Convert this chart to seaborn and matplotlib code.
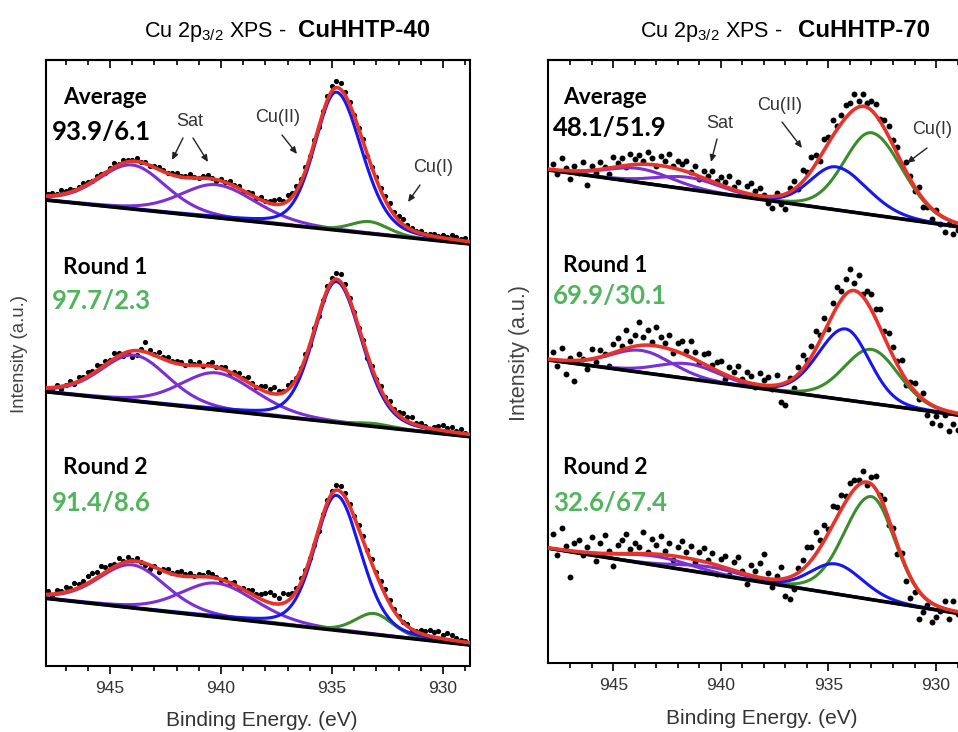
import numpy as np
import pandas as pd
import matplotlib
matplotlib.use("Agg")
import matplotlib.pyplot as plt
import seaborn as sns

sns.set_style("ticks")
plt.rcParams["font.family"] = ["Liberation Sans", "DejaVu Sans"]
plt.rcParams["mathtext.fontset"] = "custom"
plt.rcParams["mathtext.rm"] = "Liberation Sans"
plt.rcParams["mathtext.bf"] = "Liberation Sans:bold"

# ---------------- data ----------------
# measured binding energies (eV) of the data points
energy_points = [round(947.8 - 0.2 * i, 1) for i in range(95)]
component_names = ["Sat 1", "Sat 2", "Cu(II)", "Cu(I)"]

# CuHHTP-40 ------------------------------------------------------------
# intensity (a.u.) of linear background at 948 eV and 929 eV
c40_avg_base = [466.2, 422.5]
c40_avg_center = [944.0, 940.2, 934.8, 933.3]
c40_avg_height = [44, 33, 138, 12]
c40_avg_hw_hi = [1.8, 1.9, 1.15, 1.0]
c40_avg_hw_lo = [1.8, 2.1, 1.35, 1.0]
c40_avg_resid = [2, 3, 1, 4, 2, 3, 1, 2, 4, 2,
                 1, 3, 2, 0, 2, 4, 1, 3, 2, 1,
                 3, 0, 2, -1, 1, 3, 2, 0, 2, 3,
                 1, 2, 4, 1, 0, 2, 3, 1, -1, 2,
                 0, 3, 1, 2, -1, 1, 2, 0, 3, 1,
                 2, 4, 5, 3, 6, 4, 5, 3, 4, 2,
                 3, 1, 2, 4, 5, 7, 6, 3, 2, 1,
                 0, 2, -1, 1, 3, 2, 4, 5, 3, 4,
                 5, 3, 2, 1, 2, 0, 1, 2, 1, 3,
                 2, 4, 3, 2, 3]

c40_r1_base = [274.5, 229.8]
c40_r1_center = [943.9, 940.2, 934.8, 933.1]
c40_r1_height = [46, 37, 141, 3]
c40_r1_hw_hi = [1.8, 1.9, 1.2, 1.0]
c40_r1_hw_lo = [1.8, 2.1, 1.35, 1.0]
c40_r1_resid = [0, -2, 2, -3, 1, 3, -1, 4, 2, 5,
                3, 6, 2, 4, 1, 5, 3, -2, 0, -6,
                -4, 2, 10, 3, 1, 5, 2, 4, 1, 3,
                2, 0, 4, 1, 3, -1, 2, 4, 0, 1,
                3, -1, 2, 4, 1, 5, 2, 0, 3, 6,
                4, 7, 3, 2, 5, 3, 1, 2, 4, 0,
                2, -1, 1, 3, 4, 6, 8, 5, 2, 0,
                -2, 1, -3, 2, 0, 3, 1, 4, 2, 3,
                5, 4, 6, 2, 3, 1, -1, 2, 4, 6,
                3, 5, 2, 4, 1]

c40_r2_base = [67.9, 21.5]
c40_r2_center = [944.0, 940.2, 934.8, 933.1]
c40_r2_height = [43, 34, 135, 21]
c40_r2_hw_hi = [1.8, 1.9, 1.15, 1.0]
c40_r2_hw_lo = [1.8, 2.1, 1.3, 1.0]
c40_r2_resid = [3, -2, 4, 2, 5, 3, 6, 4, 5, 7,
                8, 6, 9, 5, 4, 3, 6, 2, 4, 1,
                3, 0, -2, -4, 1, -3, 2, 4, 1, 3,
                5, 2, 4, 1, 3, 2, 5, 3, 1, -1,
                2, 0, 3, -2, 1, 2, 4, 3, 5, 8,
                11, 9, 6, 10, 7, 4, 3, 5, 2, 1,
                0, -2, 1, 2, 3, 5, 6, 4, 2, 1,
                3, 4, 2, 5, 3, 4, 6, 3, 2, 1,
                0, 2, -1, 1, 3, 4, 6, 5, 7, 4,
                6, 5, 3, 2, 1]

# CuHHTP-70 ------------------------------------------------------------
c70_avg_base = [493.0, 436.3]
c70_avg_center = [943.8, 941.5, 934.65, 933.0]
c70_avg_height = [14, 12, 43, 82]
c70_avg_hw_hi = [1.8, 1.8, 1.4, 1.5]
c70_avg_hw_lo = [1.8, 1.8, 1.7, 1.7]
c70_avg_resid = [6, -4, 12, 3, -8, 5, -2, 9, -14, 4,
                 -3, 7, 2, -6, 10, 4, 8, -2, 11, 6,
                 9, 3, 12, 7, -1, 10, 5, 13, 2, 8,
                 6, 11, 1, 9, -3, 7, 4, 10, 2, 8,
                 5, 12, 3, 9, -2, 7, 11, 4, 8, 1,
                 -6, -12, 3, -9, -15, 4, 8, -3, 12, 5,
                 14, 9, -4, 11, 6, 16, 3, 8, 13, 10,
                 15, 6, 12, 4, 9, 11, 2, 8, 10, 5,
                 7, -2, 9, 3, -5, 6, -8, -3, -11, 2,
                 -9, -14, -4, -12, -7]

c70_r1_base = [303.0, 248.0]
c70_r1_center = [943.7, 941.5, 934.2, 933.0]
c70_r1_height = [22, 15, 71, 54]
c70_r1_hw_hi = [1.7, 1.7, 1.5, 1.5]
c70_r1_hw_lo = [1.7, 1.7, 1.3, 1.5]
c70_r1_resid = [8, -6, 12, -14, 3, -20, 6, 1, -9, 10,
                -4, 7, 2, -12, 9, 13, 4, 18, 6, 11,
                24, 8, 15, 3, 19, 10, 5, 14, -3, 9,
                12, 4, 16, 7, -2, 10, 13, 3, 8, 11,
                -5, 9, 6, 14, 2, 10, 7, -3, 12, 5,
                8, -4, 10, -18, -22, 3, -10, 7, 14, 4,
                11, 18, 6, 14, -6, 12, 20, 9, 15, 22,
                8, 17, 3, 12, 16, 10, 19, 6, 14, 9,
                4, 12, -6, 3, 8, -4, 6, -13, -18, -9,
                -16, -5, -20, -12, -17]

c70_r2_base = [114.7, 49.7]
c70_r2_center = [943.0, 940.5, 934.65, 933.0]
c70_r2_height = [9, 7, 30, 103]
c70_r2_hw_hi = [2.0, 1.8, 1.4, 1.5]
c70_r2_hw_lo = [2.0, 1.8, 1.45, 1.3]
c70_r2_resid = [14, -6, 22, 4, -26, 8, 12, -3, 6, 16,
                -8, 10, 18, 3, -12, 9, 14, 20, 5, 11,
                7, 22, 2, 15, 9, 18, 4, 12, -4, 10,
                16, 6, 13, -2, 9, 14, 3, 11, -9, 7,
                12, -6, 8, 15, 2, -10, 10, 5, 14, 24,
                6, -8, 3, 12, -18, -22, -14, 5, 9, 18,
                13, 22, 8, 16, 4, 19, 10, 14, 6, 12,
                9, 5, 11, -3, 7, 13, 2, 8, -6, 4,
                -10, 3, -14, -22, -8, -28, -16, -5, -19, -12,
                -4, 8, -9, 10, -2]

ratio_labels_40 = ["93.9/6.1", "97.7/2.3", "91.4/8.6"]
ratio_labels_70 = ["48.1/51.9", "69.9/30.1", "32.6/67.4"]
row_labels = ["Average", "Round 1", "Round 2"]

# ---------------- helpers ----------------
W, H = 958, 732
COL_RED = "#e8332b"
COL_BLUE = "#1717ee"
COL_GREEN = "#3b8c2a"
COL_PURPLE = "#7a30d4"
COL_TXTGREEN = "#52b45e"
mix_40 = 0.25
mix_70 = 0.12


def gl_peak(E, c, h, whi, wlo, m):
    E = np.asarray(E, dtype=float)
    w = np.where(E >= c, whi, wlo)
    u = ((E - c) / w) ** 2
    return h * ((1 - m) * np.exp(-np.log(2) * u) + m / (1 + u))


def background(E, base):
    E = np.asarray(E, dtype=float)
    return base[0] + (base[1] - base[0]) * (948.0 - E) / 19.0


def draw_spectrum(ax, base, center, height, hwhi, hwlo, resid, m, msize):
    e_fine = np.linspace(948.3, 928.5, 600)
    bg = background(e_fine, base)
    comps = [gl_peak(e_fine, c, h, a, b, m)
             for c, h, a, b in zip(center, height, hwhi, hwlo)]
    env = bg + sum(comps)
    ep = np.array(energy_points)
    env_p = background(ep, base) + sum(gl_peak(ep, c, h, a, b, m)
                                       for c, h, a, b in zip(center, height, hwhi, hwlo))
    pts = pd.DataFrame({"E": ep, "I": env_p + np.array(resid)})
    sns.scatterplot(data=pts, x="E", y="I", ax=ax, color="black", s=msize,
                    marker="o", linewidth=0, zorder=2)
    colors = [COL_PURPLE, COL_PURPLE, COL_BLUE, COL_GREEN]
    order = [0, 1, 3, 2]
    for k in order:
        sns.lineplot(x=e_fine, y=bg + comps[k], ax=ax, color=colors[k],
                     lw=2.2, zorder=3)
    sns.lineplot(x=e_fine, y=bg, ax=ax, color="black", lw=2.6, zorder=4)
    sns.lineplot(x=e_fine, y=env, ax=ax, color=COL_RED, lw=2.6, zorder=5)


def fx(px):
    return px / W


def fy(py):
    return (H - py) / H


fig = plt.figure(figsize=(W / 100, H / 100), dpi=100)
ax40 = fig.add_axes([fx(46), fy(666), (470 - 46) / W, (666 - 60) / H])
ax70 = fig.add_axes([fx(548), fy(663), (961 - 548) / W, (663 - 60) / H])

spectra40 = [
    (c40_avg_base, c40_avg_center, c40_avg_height, c40_avg_hw_hi, c40_avg_hw_lo, c40_avg_resid),
    (c40_r1_base, c40_r1_center, c40_r1_height, c40_r1_hw_hi, c40_r1_hw_lo, c40_r1_resid),
    (c40_r2_base, c40_r2_center, c40_r2_height, c40_r2_hw_hi, c40_r2_hw_lo, c40_r2_resid),
]
spectra70 = [
    (c70_avg_base, c70_avg_center, c70_avg_height, c70_avg_hw_hi, c70_avg_hw_lo, c70_avg_resid),
    (c70_r1_base, c70_r1_center, c70_r1_height, c70_r1_hw_hi, c70_r1_hw_lo, c70_r1_resid),
    (c70_r2_base, c70_r2_center, c70_r2_height, c70_r2_hw_hi, c70_r2_hw_lo, c70_r2_resid),
]
for s in spectra40:
    draw_spectrum(ax40, *s, mix_40, 14)
for s in spectra70:
    draw_spectrum(ax70, *s, mix_70, 18)

ax40.set_xlim(947.88, 928.78)
ax40.set_ylim(0, 606)
ax70.set_xlim(948.03, 928.84)
ax70.set_ylim(0, 603)

major = [945, 940, 935, 930]
minor = list(range(929, 948))
for ax in (ax40, ax70):
    ax.set_xlabel("")
    ax.set_ylabel("")
    ax.set_yticks([])
    ax.set_xticks(major)
    ax.set_xticks(minor, minor=True)
    ax.set_xticklabels([str(v) for v in major])
    ax.tick_params(axis="x", which="major", direction="out", length=6,
                   width=1.2, pad=5, labelsize=12.5, labelcolor="#333333",
                   color="black")
    ax.tick_params(axis="x", which="minor", direction="out", length=3.8,
                   width=1.2, color="black")
    for sp in ax.spines.values():
        sp.set_linewidth(1.5)
        sp.set_color("black")
    top = ax.secondary_xaxis("top")
    top.set_xticks(major)
    top.set_xticks(minor, minor=True)
    top.tick_params(axis="x", which="major", direction="in", length=6,
                    width=1.2, labeltop=False, color="black")
    top.tick_params(axis="x", which="minor", direction="in", length=3.8,
                    width=1.2, color="black")
    top.spines["top"].set_linewidth(1.5)

# ---------------- titles ----------------
fig.text(fx(287), fy(37), r"Cu 2p$_{\mathrm{3/2}}$ XPS - ", ha="right",
         va="baseline", fontsize=15.5, color="black")
fig.text(fx(298), fy(37), "CuHHTP-40", ha="left", va="baseline",
         fontsize=17.3, fontweight="bold", color="black")
fig.text(fx(783), fy(37), r"Cu 2p$_{\mathrm{3/2}}$ XPS - ", ha="right",
         va="baseline", fontsize=15.5, color="black")
fig.text(fx(798), fy(37), "CuHHTP-70", ha="left", va="baseline",
         fontsize=17.3, fontweight="bold", color="black")

# axis labels
fig.text(fx(20), fy(354), "Intensity (a.u.)", rotation=90, ha="center",
         va="center", fontsize=13.4, color="#444444")
fig.text(fx(520), fy(353), "Intensity (a.u.)", rotation=90, ha="center",
         va="center", fontsize=15.5, color="#444444")
fig.text(fx(262), fy(720), "Binding Energy. (eV)", ha="center", va="center",
         fontsize=15, color="#333333")
fig.text(fx(762), fy(719), "Binding Energy. (eV)", ha="center", va="center",
         fontsize=15, color="#333333")

# row labels
label_font = ["Lato", "DejaVu Sans"]
row_y = [98, 267, 468]
ratio_y40 = [132, 301, 503]
ratio_y70 = [128, 296, 503]
for i, name in enumerate(row_labels):
    fig.text(fx(63), fy(row_y[i]), name, ha="left", va="center", fontsize=16.3,
             fontweight="bold", family=label_font, color="black")
    fig.text(fx(563), fy(row_y[i] - 1), name, ha="left", va="center",
             fontsize=16.3, fontweight="bold", family=label_font, color="black")
    col = "black" if i == 0 else COL_TXTGREEN
    fig.text(fx(52), fy(ratio_y40[i]), ratio_labels_40[i], ha="left",
             va="center", fontsize=18.5, fontweight="bold", family=label_font,
             color=col)
    fig.text(fx(553), fy(ratio_y70[i]), ratio_labels_70[i], ha="left",
             va="center", fontsize=18.5, fontweight="bold", family=label_font,
             color=col)

# peak annotations
def note(text, pos, arrows):
    fig.text(fx(pos[0]), fy(pos[1]), text, ha="center", va="center",
             fontsize=13, color="#333333")
    for (x0, y0, x1, y1) in arrows:
        fig.add_artist(matplotlib.patches.FancyArrowPatch(
            (fx(x0), fy(y0)), (fx(x1), fy(y1)), transform=fig.transFigure,
            arrowstyle="-|>,head_length=4,head_width=1.8", lw=1.0,
            color="#222222", shrinkA=0, shrinkB=0))

note("Sat", (190, 122), [(183, 138, 172, 160), (193, 138, 208, 162)])
note("Cu(II)", (278, 117), [(282, 135, 297, 154)])
note("Cu(I)", (433, 168), [(420, 185, 408, 202)])
note("Sat", (720, 124), [(717, 139, 711, 162)])
note("Cu(II)", (780, 106), [(782, 122, 802, 148)])
note("Cu(I)", (932, 130), [(927, 148, 907, 163)])

fig.savefig("out.png", dpi=100)
